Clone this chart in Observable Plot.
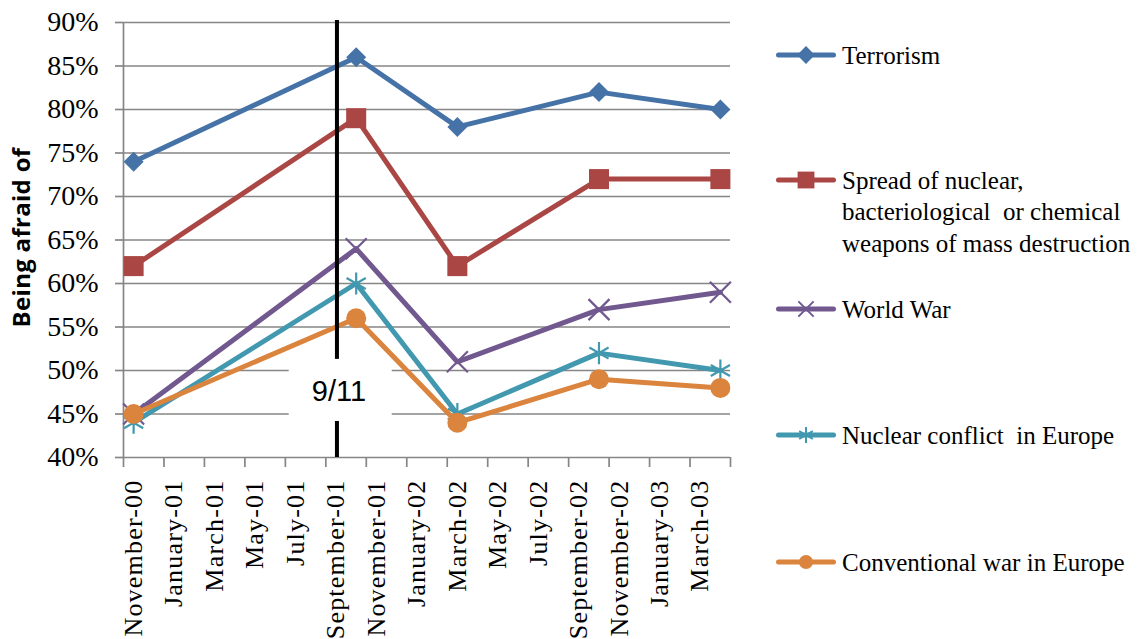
<!DOCTYPE html>
<html>
<head>
<meta charset="utf-8">
<script src="https://cdn.jsdelivr.net/npm/d3@7"></script>
<script src="https://cdn.jsdelivr.net/npm/@observablehq/plot@0.6"></script>
<style>
  html, body { margin: 0; padding: 0; background: #fff; color: #000; }
  #chart { width: 1140px; height: 639px; }
  #chart svg { display: block; }
  #chart [aria-label="x-axis tick label"] text { letter-spacing: 1.2px; }
  #chart [aria-label="y-axis tick label"],
  #chart [aria-label="y-axis tick label"] text {
    font-family: 'Liberation Serif', 'Times New Roman', serif !important;
    font-variant: normal !important;
    font-variant-numeric: normal !important;
  }
</style>
</head>
<body>
<div id="chart"></div>
<script>
// ---------- data ----------
const surveyMonths = ["2000-11", "2001-10", "2002-03", "2002-10", "2003-04"];
const terrorism = [74, 86, 78, 82, 80];
const spreadWMD = [62, 79, 62, 72, 72];
const worldWar = [45, 64, 51, 57, 59];
const nuclearEurope = [44, 60, 45, 52, 50];
const conventionalEurope = [45, 56, 44, 49, 48];
const seriesNames = [
  "Terrorism",
  "Spread of nuclear,\nbacteriological  or chemical\nweapons of mass destruction",
  "World War",
  "Nuclear conflict  in Europe",
  "Conventional war in Europe"
];
const tickLabels = ["November-00", "January-01", "March-01", "May-01", "July-01",
  "September-01", "November-01", "January-02", "March-02", "May-02", "July-02",
  "September-02", "November-02", "January-03", "March-03"];
const axisStartMonth = "2000-11";
const axisEndMonth = "2003-05";
const yTicks = [0.40, 0.45, 0.50, 0.55, 0.60, 0.65, 0.70, 0.75, 0.80, 0.85, 0.90];
const eventMonth = "2001-09";
const eventLabel = "9/11";
const yTitle = "Being afraid of";

// ---------- styling ----------
const serif = "'Liberation Serif', 'Times New Roman', serif";
const colors = ["#4572A7", "#AA4643", "#71588F", "#4198AF", "#DB843D"];
const symbols = ["diamond2", "square", "times", "asterisk", "circle"];
const symbolR = [9, 11.3, 9.6, 10.5, 10];
const filled = [true, true, false, false, true];
const grid = "#868686";

// month index relative to axis start (each month is one equal slot, like an Excel date axis)
function monthIndex(s) {
  const [y, m] = s.split("-").map(Number);
  const [y0, m0] = axisStartMonth.split("-").map(Number);
  return (y - y0) * 12 + (m - m0);
}
const xMax = monthIndex(axisEndMonth);
const allValues = [terrorism, spreadWMD, worldWar, nuclearEurope, conventionalEurope];
const series = allValues.map((vals, k) => vals.map((v, i) => ({
  x: monthIndex(surveyMonths[i]) + 0.5, y: v / 100, k
})));
const evX = monthIndex(eventMonth) + 0.5;
const tickPos = d3.range(0, xMax + 1, 2);
const labelPos = tickLabels.map((_, i) => i * 2 + 0.5);

const dataMarks = [];
series.forEach((rows, k) => {
  dataMarks.push(Plot.line(rows, {x: "x", y: "y", stroke: colors[k], strokeWidth: 5,
    strokeLinejoin: "round", strokeLinecap: "round"}));
  dataMarks.push(Plot.dot(rows, filled[k]
    ? {x: "x", y: "y", symbol: symbols[k], r: symbolR[k], fill: colors[k], stroke: "none"}
    : {x: "x", y: "y", symbol: symbols[k], r: symbolR[k], stroke: colors[k], strokeWidth: 2.2, fill: "none"}));
});

const chart = Plot.plot({
  width: 1140,
  height: 639,
  marginLeft: 123,
  marginRight: 410,
  marginTop: 22,
  marginBottom: 182,
  style: {fontFamily: serif, background: "#fff", color: "#000"},
  x: {type: "linear", domain: [0, xMax], label: null},
  y: {domain: [0.40, 0.90], label: null},
  marks: [
    Plot.gridY(yTicks, {stroke: grid, strokeOpacity: 1, strokeWidth: 1.7}),
    Plot.axisY(yTicks, {tickSize: 8, tickPadding: 17, stroke: grid, strokeWidth: 1.7, fill: "#000",
      fontSize: 28, fontFamily: serif, label: null, tickFormat: d => Math.round(d * 100) + "%"}),
    Plot.ruleX([0], {stroke: grid, strokeWidth: 1.7}),
    Plot.axisX(tickPos, {tickSize: 10, stroke: grid, strokeWidth: 1.7, label: null, tickFormat: () => ""}),
    Plot.axisX(labelPos, {tickSize: 0, tickPadding: 22, tickRotate: -90, fontSize: 26, fontFamily: serif,
      fill: "#000", label: null, tickFormat: d => tickLabels[Math.round((d - 0.5) / 2)]}),
    ...dataMarks,
    Plot.ruleX([evX], {y1: 0.4, y2: 0.9023, dx: 1, stroke: "#000", strokeWidth: 4}),
    Plot.rect([evX], {x1: d => d - 2.31, x2: d => d + 2.78, y1: 0.4414, y2: 0.5128, fill: "#fff"}),
    Plot.text([eventLabel], {x: evX, y: 0.4753, dx: 3, fontFamily: "'Liberation Sans', Arial, sans-serif",
      fontSize: 29, fill: "#000"}),
    Plot.text([yTitle], {frameAnchor: "left", textAnchor: "middle", dx: -101, dy: -2.5, rotate: -90,
      fontFamily: "'Open Sans', sans-serif", fontWeight: "bold", fontSize: 24, fill: "#000"})
  ]
});

document.getElementById("chart").appendChild(chart);

// ---------- legend ----------
const svg = d3.select(chart);
const legendY = [55, 180, 309, 435, 562];
const legendSymbolSize = [8, 9.5, 7, 7.5, 7];
const d3Symbols = {diamond2: d3.symbolDiamond2, square: d3.symbolSquare, times: d3.symbolTimes,
  asterisk: d3.symbolAsterisk, circle: d3.symbolCircle};
const lg = svg.append("g").attr("class", "legend").attr("text-anchor", "start");
seriesNames.forEach((name, k) => {
  const y = legendY[k];
  lg.append("line").attr("x1", 778.5).attr("x2", 833.5).attr("y1", y).attr("y2", y)
    .attr("stroke", colors[k]).attr("stroke-width", 5).attr("stroke-linecap", "round");
  const path = d3.symbol(d3Symbols[symbols[k]], Math.PI * legendSymbolSize[k] ** 2)();
  const p = lg.append("path").attr("d", path).attr("transform", `translate(806,${y})`);
  if (filled[k]) p.attr("fill", colors[k]);
  else p.attr("fill", "none").attr("stroke", colors[k]).attr("stroke-width", 2);
  const t = lg.append("text").attr("x", 842).attr("y", y).attr("text-anchor", "start")
    .attr("font-family", serif)
    .attr("font-size", 25).attr("fill", "#000").style("white-space", "pre");
  name.split("\n").forEach((line, j) => {
    t.append("tspan").attr("x", 842).attr("y", y + j * 31.5).attr("dy", "0.34em").text(line);
  });
});
// y-title spacing
svg.selectAll("text").filter(function() { return this.textContent === yTitle; })
  .style("letter-spacing", "0.3px");
</script>
</body>
</html>
